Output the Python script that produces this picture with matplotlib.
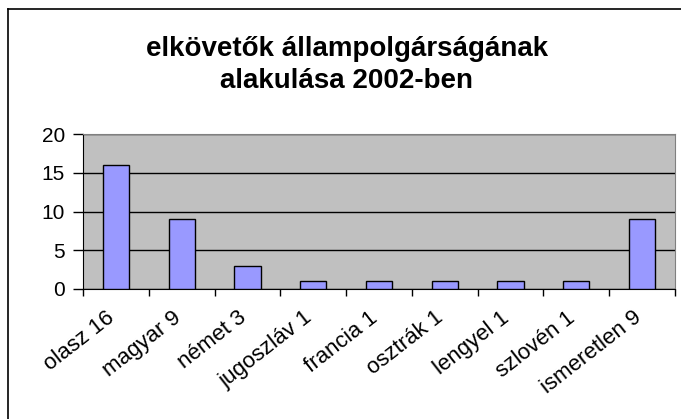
import matplotlib
matplotlib.use("Agg")
import matplotlib.pyplot as plt
import matplotlib.transforms as mtransforms
import numpy as np

plt.rcParams['font.family'] = ['Liberation Sans', 'DejaVu Sans']

# nationality of offenders, 2002
categories = ['olasz 16', 'magyar 9', 'német 3', 'jugoszláv 1', 'francia 1',
              'osztrák 1', 'lengyel 1', 'szlovén 1', 'ismeretlen 9']
counts = [16, 9, 3, 1, 1, 1, 1, 1, 9]
yticks = [0, 5, 10, 15, 20]

fig = plt.figure(figsize=(6.81, 4.19), dpi=100)
ax = fig.add_axes([83/681, 1 - 289/419, (675 - 83)/681, (289 - 134)/419])

x = np.arange(len(categories))
ax.bar(x, counts, width=0.4, color='#9999FF', edgecolor='black', linewidth=1, zorder=3)

ax.set_facecolor('#C0C0C0')
ax.set_xlim(-0.5, len(categories) - 0.5)
ax.set_ylim(0, 20)
ax.set_yticks(yticks)
ax.yaxis.grid(True, color='black', linewidth=1, zorder=1)
ax.tick_params(axis='y', labelsize=15, length=7, width=1, direction='out', pad=6)

# category ticks sit between the bars, labels under the bar centres
ax.set_xticks(np.arange(len(categories) + 1) - 0.5)
ax.set_xticklabels([])
ax.set_xticks(x, minor=True)
ax.set_xticklabels(categories, minor=True, rotation=38, ha='right',
                   rotation_mode='anchor', fontsize=16)
ax.tick_params(axis='x', which='major', length=5, width=1, direction='out')
ax.tick_params(axis='x', which='minor', length=0, pad=13)
shift = mtransforms.ScaledTranslation(-10/100, 0, fig.dpi_scale_trans)
for lab in ax.get_xticklabels(minor=True):
    lab.set_transform(lab.get_transform() + shift)

ax.spines['left'].set_color('black')
ax.spines['bottom'].set_color('black')
ax.spines['top'].set_color('#808080')
ax.spines['right'].set_color('#808080')

fig.text(347/681, 1 - 65/419, 'elkövetők állampolgárságának\nalakulása 2002-ben',
         ha='center', va='center', fontsize=20, fontweight='bold', linespacing=1.3)

# outer chart border (left and top edges visible)
fig.add_artist(plt.Line2D([8/681, 8/681], [0, 1 - 9/419], color='black', linewidth=1.2))
fig.add_artist(plt.Line2D([8/681, 1], [1 - 9/419, 1 - 9/419], color='black', linewidth=1.2))

fig.savefig('out.png', dpi=100)
